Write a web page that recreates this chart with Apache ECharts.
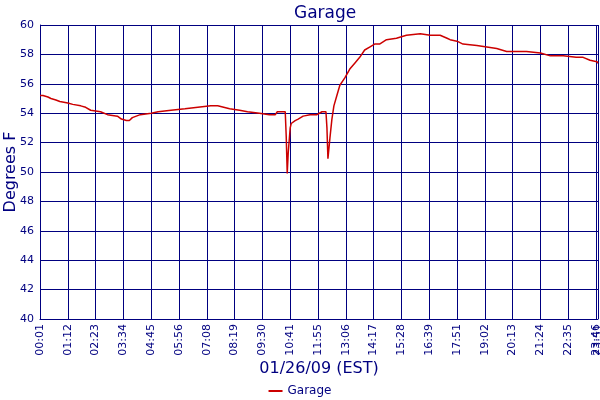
<!DOCTYPE html>
<html><head><meta charset="utf-8">
<script src="https://cdn.jsdelivr.net/npm/echarts@6/dist/echarts.min.js"></script>
<style>html,body{margin:0;padding:0;background:#fff}#c{width:600px;height:400px}</style>
</head><body><div id="c"></div>
<script>
const tickLabels = ["00:01","01:12","02:23","03:34","04:45","05:56","07:08","08:19","09:30","10:41","11:55","13:06","14:17","15:28","16:39","17:51","19:02","20:13","21:24","22:35","23:46"];
const lastLabel = "23:51";
const sampleX = [0,3,8,11,16,20,28,33,41,46,51,61,68,78,82,87,90,93,101,112,119,132,146,159,172,179,181,191,201,209,221,231,237,239,247,248,249,250,252,253,257,260,265,272,279,284,288,289,290,292,294,296,299,302,307,312,317,322,327,332,337,342,349,359,369,383,393,403,410,413,420,426,440,450,460,470,480,490,504,514,527,540,547,554,561,562];
const garageF = [55.2,55.2,55.1,55.0,54.9,54.8,54.7,54.6,54.5,54.4,54.2,54.1,53.9,53.8,53.6,53.5,53.5,53.7,53.9,54.0,54.1,54.2,54.3,54.4,54.5,54.5,54.4,54.3,54.2,54.1,54.0,53.9,53.9,54.1,54.1,52.4,49.9,51.3,53.0,53.3,53.5,53.6,53.8,53.9,53.9,54.1,54.1,53.0,50.9,52.3,53.6,54.5,55.2,55.9,56.4,57.0,57.4,57.8,58.3,58.5,58.7,58.7,59.0,59.1,59.3,59.4,59.3,59.3,59.1,59.0,58.9,58.7,58.6,58.5,58.4,58.2,58.2,58.2,58.1,57.9,57.9,57.8,57.8,57.6,57.5,57.4];
const xMax = 562, xStep = 28;
const navy = '#000080';
const font = 'DejaVu Sans';
const chart = echarts.init(document.getElementById('c'));
chart.setOption({
  animation: false,
  textStyle: {fontFamily: font},
  title: {text: 'Garage', left: 289, top: 0, textStyle: {color: navy, fontSize: 17, fontWeight: 'normal', fontFamily: font}},
  legend: {bottom: -2, left: 'center', itemWidth: 14, itemHeight: 2, icon: 'rect', textStyle: {color: navy, fontSize: 12, fontFamily: font}, data: ['Garage']},
  grid: {left: 40, right: 2, top: 25, bottom: 81, containLabel: false, outerBoundsMode: 'none'},
  xAxis: [{
    type: 'value', min: 0, max: xMax, interval: xStep,
    name: '01/26/09 (EST)', nameLocation: 'middle', nameGap: 42, nameMoveOverlap: false,
    nameTextStyle: {color: navy, fontSize: 16, fontFamily: font},
    axisLine: {show: true, lineStyle: {color: navy}},
    axisTick: {show: false},
    splitLine: {show: true, lineStyle: {color: navy, width: 1}},
    axisLabel: {rotate: 90, color: navy, fontSize: 11, margin: 5, fontFamily: font,
      showMinLabel: true, showMaxLabel: false,
      formatter: v => tickLabels[Math.round(v / xStep)] || ''}
  }, {
    type: 'value', min: 0, max: xMax, interval: xMax, position: 'bottom',
    axisLine: {show: false}, axisTick: {show: false}, splitLine: {show: false},
    axisLabel: {rotate: 90, color: navy, fontSize: 11, margin: 5, fontFamily: font,
      showMinLabel: false, showMaxLabel: true,
      formatter: v => v >= xMax ? lastLabel : ''}
  }],
  yAxis: {
    type: 'value', min: 40, max: 60, interval: 2,
    name: 'Degrees F', nameLocation: 'middle', nameGap: 21, nameRotate: 90, nameMoveOverlap: false,
    nameTextStyle: {color: navy, fontSize: 16, fontFamily: font},
    axisLine: {show: true, lineStyle: {color: navy}},
    axisTick: {show: false},
    splitLine: {show: true, lineStyle: {color: navy, width: 1}},
    axisLabel: {color: navy, fontSize: 11, margin: 6, fontFamily: font}
  },
  series: [{
    name: 'Garage', type: 'line', showSymbol: false, xAxisIndex: 0,
    lineStyle: {color: '#cc0000', width: 1.5}, itemStyle: {color: '#cc0000'},
    data: sampleX.map((x, i) => [x, garageF[i]])
  }]
});
</script>
</body></html>
